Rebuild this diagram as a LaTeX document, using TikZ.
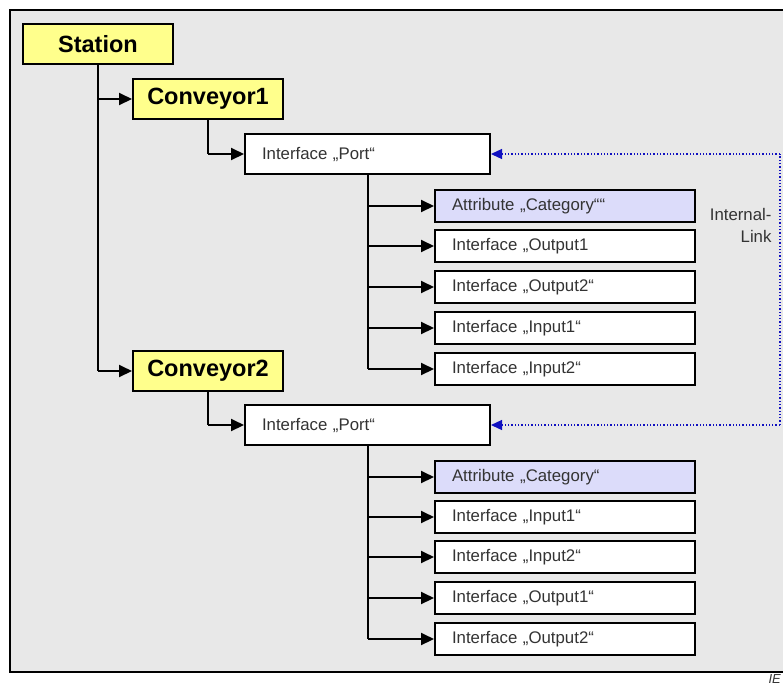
\documentclass[tikz,border=0pt]{standalone}
\usepackage{fontspec}
\setmainfont{Liberation Sans}
\usetikzlibrary{arrows.meta}
\definecolor{bggray}{HTML}{E8E8E8}
\definecolor{ylw}{HTML}{FFFF8C}
\definecolor{lav}{HTML}{DCDCFA}
\definecolor{txt}{HTML}{333333}
\definecolor{linkblue}{HTML}{1010C0}
\tikzset{
  x=1pt, y=-1pt,
  ybox/.style={draw=black, line width=2pt, fill=ylw, minimum width=150pt, minimum height=40pt, inner sep=0pt, font=\fontsize{23.5}{25}\selectfont\bfseries, text=black},
  pbox/.style={draw=black, line width=2pt, fill=white, minimum width=245pt, minimum height=40pt, inner sep=0pt, text width=211pt, align=left, font=\fontsize{16.8}{18}\selectfont, text=txt},
  cbox/.style={draw=black, line width=2pt, fill=white, minimum width=260pt, minimum height=32pt, inner sep=0pt, text width=226pt, align=left, font=\fontsize{16.8}{18}\selectfont, text=txt},
  abox/.style={cbox, fill=lav},
  conn/.style={line width=2pt, -{Triangle[length=13pt,width=12pt]}},
  tree/.style={line width=2pt},
  ilink/.style={draw=linkblue, line width=1.3pt, dotted, -{Triangle[length=11pt,width=10pt]}},
}
\begin{document}
\begin{tikzpicture}
\useasboundingbox (0,0) rectangle (783,686);
\begin{scope}
\clip (0,0) rectangle (783,686);
\draw[line width=2pt, fill=bggray] (10,10) rectangle (800,672);
\end{scope}
% nodes
\node[ybox] (station) at (98,44) {Station};
\node[ybox] (conv1) at (208,99) {Conveyor1};
\node[ybox] (conv2) at (208,371) {Conveyor2};
\node[pbox] (port1) at (367.5,154) {Interface „Port“};
\node[pbox] (port2) at (367.5,425) {Interface „Port“};
\node[abox] (a1) at (565,206) {Attribute „Category““};
\node[cbox] (o11) at (565,246) {Interface „Output1};
\node[cbox] (o12) at (565,287) {Interface „Output2“};
\node[cbox] (i11) at (565,328) {Interface „Input1“};
\node[cbox] (i12) at (565,369) {Interface „Input2“};
\node[abox] (a2) at (565,477) {Attribute „Category“};
\node[cbox] (i21) at (565,517) {Interface „Input1“};
\node[cbox] (i22) at (565,557) {Interface „Input2“};
\node[cbox] (o21) at (565,598) {Interface „Output1“};
\node[cbox] (o22) at (565,639) {Interface „Output2“};
% tree from station
\draw[tree] (station.south) -- (station.south |- conv2.west);
\draw[conn] (station.south |- conv1.west) -- (conv1.west);
\draw[conn] (station.south |- conv2.west) -- (conv2.west);
% conveyor to port
\draw[tree] (conv1.south) -- (conv1.south |- port1.west);
\draw[conn] (conv1.south |- port1.west) -- (port1.west);
\draw[tree] (conv2.south) -- (conv2.south |- port2.west);
\draw[conn] (conv2.south |- port2.west) -- (port2.west);
% port children
\coordinate (t1) at (368,174);
\draw[tree] (t1) -- (t1 |- i12.west);
\foreach \n in {a1,o11,o12,i11,i12} \draw[conn] (t1 |- \n.west) -- (\n.west);
\coordinate (t2) at (368,445);
\draw[tree] (t2) -- (t2 |- o22.west);
\foreach \n in {a2,i21,i22,o21,o22} \draw[conn] (t2 |- \n.west) -- (\n.west);
% internal link
\coordinate (lk1) at (780,154);
\coordinate (lk2) at (780,425);
\draw[linkblue, line width=1.3pt, dotted] (lk2) -- (lk1);
\draw[ilink] (lk1) -- (port1.east);
\draw[ilink] (lk2) -- (port2.east);
\node[align=right, anchor=east, font=\fontsize{16.8}{22}\selectfont, text=txt] (lbl) at (775,225) {Internal-\\Link};
\node[anchor=north east, inner sep=0pt, font=\fontsize{13}{14}\selectfont\itshape, text=txt] (iec) at (781,674) {IE};
\end{tikzpicture}
\end{document}
